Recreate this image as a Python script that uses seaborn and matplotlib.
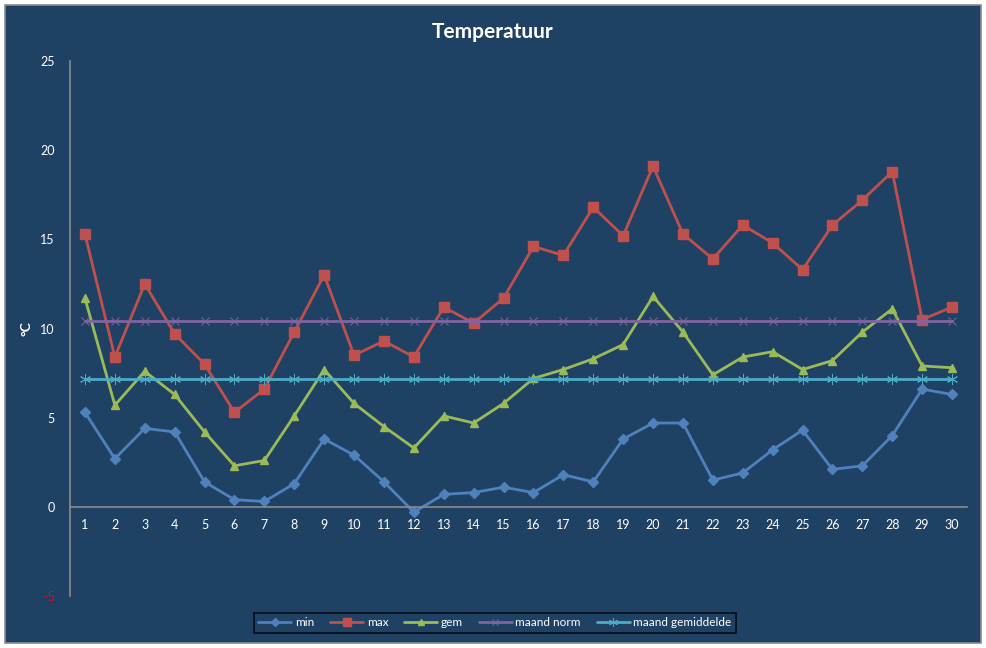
import numpy as np
import pandas as pd
import seaborn as sns
import matplotlib.pyplot as plt
from matplotlib.patches import Rectangle

# daily temperatures
days = list(range(1, 31))
min_t = [5.3, 2.7, 4.4, 4.2, 1.4, 0.4, 0.3, 1.3, 3.8, 2.9, 1.4, -0.3, 0.7, 0.8, 1.1,
         0.8, 1.8, 1.4, 3.8, 4.7, 4.7, 1.5, 1.9, 3.2, 4.3, 2.1, 2.3, 4.0, 6.6, 6.3]
max_t = [15.3, 8.4, 12.5, 9.7, 8.0, 5.3, 6.6, 9.8, 13.0, 8.5, 9.3, 8.4, 11.2, 10.3, 11.7,
         14.6, 14.1, 16.8, 15.2, 19.1, 15.3, 13.9, 15.8, 14.8, 13.3, 15.8, 17.2, 18.8, 10.5, 11.2]
gem_t = [11.7, 5.7, 7.6, 6.3, 4.2, 2.3, 2.6, 5.1, 7.7, 5.8, 4.5, 3.3, 5.1, 4.7, 5.8,
         7.2, 7.7, 8.3, 9.1, 11.8, 9.8, 7.4, 8.4, 8.7, 7.7, 8.2, 9.8, 11.1, 7.9, 7.8]
norm_t = [10.4] * 30
avg_t = [7.15] * 30

y_ticks = [-5, 0, 5, 10, 15, 20, 25]

navy = "#1F4264"
white = "#FFFFFF"
grey = "#8C8C8C"

sns.set_style("white")
plt.rcParams["font.family"] = ["Lato", "DejaVu Sans"]

fig = plt.figure(figsize=(9.87, 6.48), dpi=100)
fig.patch.set_facecolor("white")
frame = Rectangle((5 / 987, 5 / 648), 976 / 987, 638 / 648, transform=fig.transFigure,
                  facecolor=navy, edgecolor=grey, linewidth=1.2, zorder=-10)
fig.patches.append(frame)

ax = fig.add_axes([70 / 987, 52 / 648, 897 / 987, 535 / 648])
ax.set_facecolor(navy)
ax.patch.set_alpha(0)

series = [
    ("min", min_t, "#4F81BD", "D", 5, 1),
    ("max", max_t, "#C0504D", "s", 6.5, 1),
    ("gem", gem_t, "#9BBB59", "^", 6, 1),
    ("maand norm", norm_t, "#8064A2", "x", 6, 0.7),
    ("maand gemiddelde", avg_t, "#4BACC6", (6, 2, 0), 8, 0.7),
]
for name, vals, col, mk, ms, mew in series:
    df = pd.DataFrame({"dag": days, "temp": vals})
    sns.lineplot(data=df, x="dag", y="temp", ax=ax, color=col, linewidth=2.0,
                 marker=mk, markersize=ms, markeredgewidth=mew, markeredgecolor=col,
                 markerfacecolor=col, label=name)

ax.set_xlim(0.5, 30.5)
ax.set_ylim(-5, 25)

# x axis crossing at 0
ax.spines["bottom"].set_position(("data", 0))
for s in ["top", "right"]:
    ax.spines[s].set_visible(False)
for s in ["left", "bottom"]:
    ax.spines[s].set_color(grey)
    ax.spines[s].set_linewidth(1.2)

ax.set_xticks(np.arange(0.5, 31, 1))
ax.set_xticklabels([])
ax.set_xticks(days, minor=True)
ax.set_xticklabels([str(d) for d in days], minor=True)
ax.tick_params(axis="x", which="major", direction="out", length=6, color=grey, width=1.2)
ax.tick_params(axis="x", which="minor", length=0, pad=9, labelsize=9, labelcolor=white)

ax.set_yticks(y_ticks)
ax.set_yticklabels([str(v) for v in y_ticks])
ax.tick_params(axis="y", direction="out", length=5, color=grey, width=1.2,
               labelsize=9, labelcolor=white, pad=6)
ax.get_yticklabels()[0].set_color("red")

ax.set_xlabel("")
ax.set_ylabel("°C", color=white, fontsize=10, fontweight="bold")
ax.yaxis.set_label_coords(-0.042, 0.5)

fig.text(0.499, 0.951, "Temperatuur", ha="center", va="center", color=white,
         fontsize=15, fontweight="bold")

leg = ax.legend(loc="center", bbox_to_anchor=(495 / 987, 1 - 623 / 648), bbox_transform=fig.transFigure,
                ncol=5, frameon=True, fontsize=8.5, handlelength=2.8, columnspacing=1.35,
                handletextpad=0.3, borderpad=0.4, fancybox=False, markerscale=0.8)
leg.get_frame().set_facecolor(navy)
leg.get_frame().set_edgecolor("black")
leg.get_frame().set_linewidth(1.2)
for t in leg.get_texts():
    t.set_color(white)

fig.savefig("out.png", dpi=100, facecolor=fig.get_facecolor())
